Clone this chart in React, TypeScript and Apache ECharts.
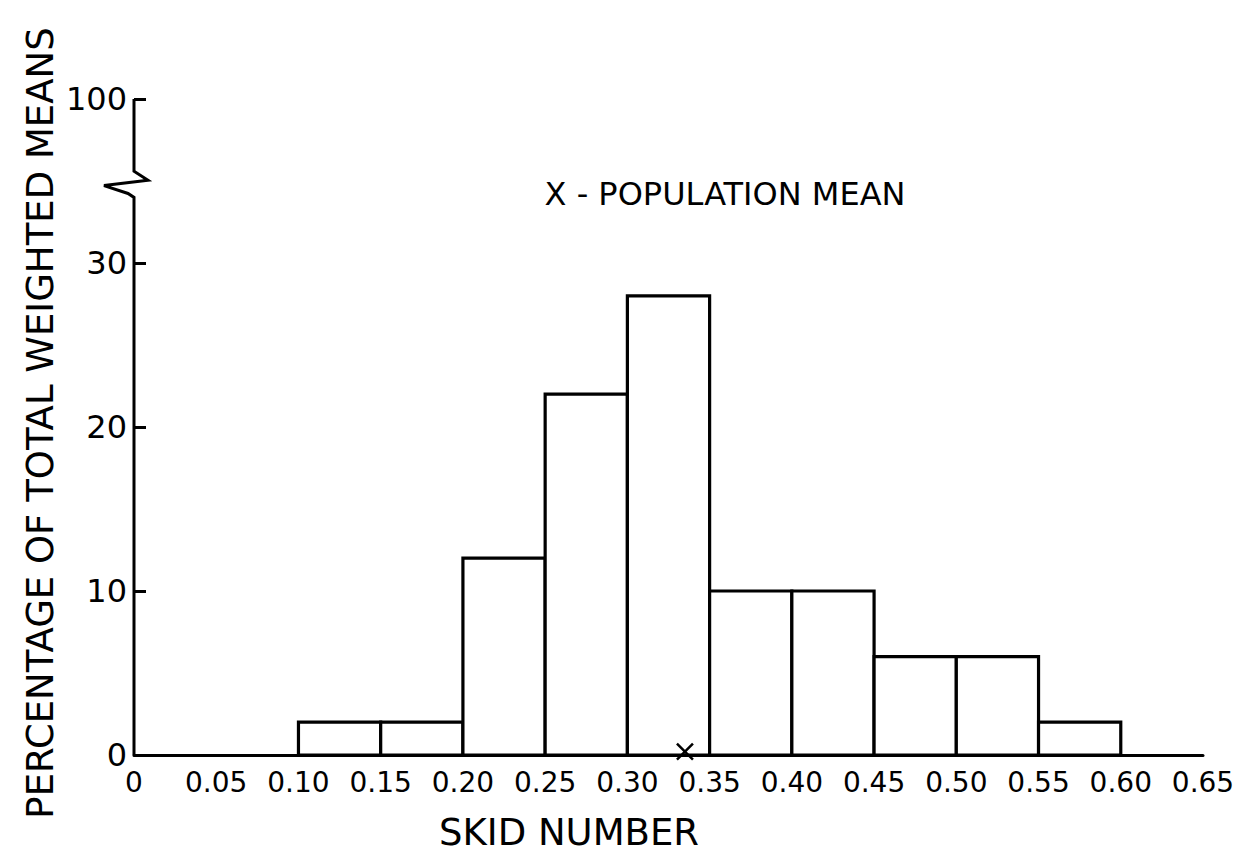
import React, { useEffect, useRef } from "react";
import * as echarts from "echarts";

// Histogram bins (skid number) and percentages
const binStarts = [0.1, 0.15, 0.2, 0.25, 0.3, 0.35, 0.4, 0.45, 0.5, 0.55];
const binEnds = [0.15, 0.2, 0.25, 0.3, 0.35, 0.4, 0.45, 0.5, 0.55, 0.6];
const percentages = [2, 2, 12, 22, 28, 10, 10, 6, 6, 2];
const populationMean = [0.335];
const yTickValues = [0, 10, 20, 30, 40];
const yTickLabels = ["0", "10", "20", "30", "100"];
const breakRange = [34, 35.6];

const FONT = "DejaVu Sans";

export default function App() {
  const ref = useRef<HTMLDivElement>(null);
  useEffect(() => {
    if (!ref.current) return;
    const chart = echarts.init(ref.current, null, { renderer: "svg" });
    const barData = binStarts.map((s, i) => [s, binEnds[i], percentages[i]]);
    chart.setOption({
      animation: false,
      backgroundColor: "#fff",
      grid: { left: 134, right: 51, top: 99, bottom: 99 },
      xAxis: {
        type: "value",
        min: 0,
        max: 0.65,
        interval: 0.05,
        axisLine: { show: true, lineStyle: { color: "#000", width: 3 } },
        axisTick: { show: false },
        splitLine: { show: false },
        axisLabel: {
          show: true,
          showMaxLabel: true,
          margin: 13,
          color: "#000",
          fontFamily: FONT,
          fontSize: 28,
          formatter: (v: number) => (Math.abs(v) < 1e-9 ? "0" : v.toFixed(2)),
        },
      },
      yAxis: {
        type: "value",
        min: 0,
        max: 40,
        interval: 10,
        axisLine: { show: false },
        axisTick: { show: true, inside: true, length: 12, lineStyle: { color: "#000", width: 3 } },
        splitLine: { show: false },
        axisLabel: {
          margin: 7,
          color: "#000",
          fontFamily: FONT,
          fontSize: 32,
          formatter: (v: number) => {
            const idx = yTickValues.indexOf(Math.round(v));
            return idx >= 0 ? yTickLabels[idx] : "";
          },
        },
      },
      series: [
        {
          type: "custom",
          data: barData,
          renderItem: (params: any, api: any) => {
            const s = api.value(0);
            const e = api.value(1);
            const v = api.value(2);
            const p1 = api.coord([s, v]);
            const p2 = api.coord([e, 0]);
            return {
              type: "rect",
              shape: { x: p1[0], y: p1[1], width: p2[0] - p1[0], height: p2[1] - p1[1] },
              style: { fill: "#fff", stroke: "#000", lineWidth: 3.2 },
            };
          },
          z: 2,
        },
        {
          type: "scatter",
          data: populationMean.map((m) => [m, 0.2]),
          symbol: "path://M0 0L10 10M10 0L0 10",
          symbolSize: 16,
          itemStyle: { color: "none", borderColor: "#000", borderWidth: 2.5, opacity: 1 },
          z: 5,
        },
      ],
    });

    const px = (v: number) => chart.convertToPixel({ gridIndex: 0 }, [0, v]) as number[];
    const p0 = px(0);
    const pL = px(breakRange[0]);
    const pU = px(breakRange[1]);
    const pT = px(40);
    const a = p0[0];
    const yL = pL[1];
    const yU = pU[1];
    const h = yL - yU;
    chart.setOption({
      graphic: [
        {
          type: "polyline",
          shape: {
            points: [
              [a, p0[1]],
              [a, yL],
              [a - 6, yL - h * 0.15],
              [a - 30, yL - h * 0.45],
              [a + 14, yL - h * 0.65],
              [a, yU],
              [a, pT[1]],
            ],
          },
          style: { stroke: "#000", lineWidth: 3, fill: "none", lineJoin: "miter" },
          z: 10,
        },
        {
          type: "text",
          x: 40,
          y: 423,
          rotation: Math.PI / 2,
          style: {
            text: "PERCENTAGE OF TOTAL WEIGHTED MEANS",
            fontFamily: FONT,
            fontSize: 37,
            fill: "#000",
            align: "center",
            verticalAlign: "middle",
          },
        },
        {
          type: "text",
          x: 569,
          y: 832,
          style: {
            text: "SKID NUMBER",
            fontFamily: FONT,
            fontSize: 37,
            fill: "#000",
            align: "center",
            verticalAlign: "middle",
          },
        },
        {
          type: "text",
          x: 725,
          y: 194,
          style: {
            text: "X - POPULATION MEAN",
            fontFamily: FONT,
            fontSize: 32,
            fill: "#000",
            align: "center",
            verticalAlign: "middle",
          },
        },
      ],
    });

    return () => chart.dispose();
  }, []);
  return <div ref={ref} style={{ width: 1254, height: 854, position: "absolute", left: 0, top: 0 }} />;
}
